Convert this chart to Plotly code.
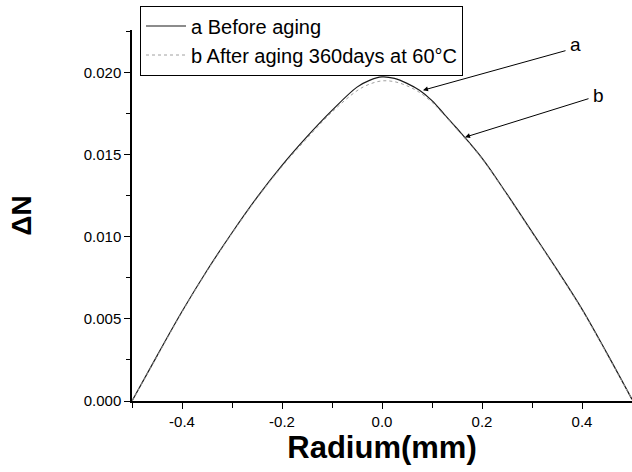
import plotly.graph_objects as go

# ---- data ----
radius = [-0.5, -0.45, -0.4, -0.35, -0.3, -0.25, -0.2, -0.15, -0.1, -0.05, -0.025,
          0.0, 0.025, 0.05, 0.075, 0.1, 0.125, 0.15, 0.2, 0.25, 0.3, 0.35, 0.4, 0.45, 0.5]
dn_before = [0.0, 0.00275, 0.00545, 0.00795, 0.01025, 0.0124, 0.01435, 0.0161, 0.0177, 0.01912, 0.01953,
             0.01974, 0.01965, 0.01935, 0.01893, 0.0183, 0.01745, 0.0166, 0.0148, 0.0126, 0.0103, 0.0080, 0.0056, 0.0029, 0.0001]
dn_after = [0.0, 0.0027, 0.0054, 0.0079, 0.0102, 0.01235, 0.01428, 0.016, 0.0176, 0.0189, 0.0193,
            0.0195, 0.01945, 0.0192, 0.0188, 0.0182, 0.0174, 0.01655, 0.01475, 0.01255, 0.01025, 0.00795, 0.00555, 0.00285, 0.0001]

label_a = "a Before aging"
label_b = "b After aging 360days at 60°C"
x_ticks = [-0.4, -0.2, 0.0, 0.2, 0.4]
x_tick_text = ["-0.4", "-0.2", "0.0", "0.2", "0.4"]
y_ticks = [0.0, 0.005, 0.010, 0.015, 0.020]
y_tick_text = ["0.000", "0.005", "0.010", "0.015", "0.020"]

FONT = "Liberation Sans, Arial, sans-serif"

fig = go.Figure()
fig.add_trace(go.Scatter(x=radius, y=dn_before, mode="lines", name=label_a,
                         line=dict(color="#1a1a1a", width=1.2, shape="spline", smoothing=1)))
fig.add_trace(go.Scatter(x=radius, y=dn_after, mode="lines", name=label_b,
                         line=dict(color="#a0a0a0", width=1, dash="dot", shape="spline", smoothing=1)))

axis_common = dict(showline=True, linecolor="black", linewidth=1.5, ticks="outside",
                   tickcolor="black", tickwidth=1.2, ticklen=6, showgrid=False, zeroline=False,
                   tickfont=dict(family=FONT, size=15, color="black"))

fig.update_xaxes(range=[-0.5, 0.5], tickvals=x_ticks, ticktext=x_tick_text,
                 minor=dict(ticks="outside", dtick=0.1, tick0=-0.5, ticklen=5, tickcolor="black", tickwidth=1.2),
                 title=dict(text="<b>Radium(mm)</b>", font=dict(family=FONT, size=31, color="black"), standoff=6),
                 **axis_common)
fig.update_yaxes(range=[0, 0.0226], tickvals=y_ticks, ticktext=y_tick_text,
                 minor=dict(ticks="outside", dtick=0.0025, tick0=0, ticklen=4, tickcolor="black", tickwidth=1.2),
                 title=dict(text="<b>ΔN</b>", font=dict(family=FONT, size=28, color="black"), standoff=44),
                 **axis_common)

# arrows
fig.add_annotation(x=0.082, y=0.01893, xref="x", yref="y", text="", showarrow=True,
                   axref="pixel", ayref="pixel", ax=144, ay=-40,
                   arrowhead=2, arrowsize=1, arrowwidth=1, arrowcolor="black")
fig.add_annotation(x=0.166, y=0.01607, xref="x", yref="y", text="", showarrow=True,
                   axref="pixel", ayref="pixel", ax=125, ay=-39,
                   arrowhead=2, arrowsize=1, arrowwidth=1, arrowcolor="black")
fig.add_annotation(x=0.386, y=0.0217, xref="x", yref="y", text="a", showarrow=False,
                   font=dict(family=FONT, size=19, color="black"))
fig.add_annotation(x=0.432, y=0.0186, xref="x", yref="y", text="b", showarrow=False,
                   font=dict(family=FONT, size=19, color="black"))

fig.update_layout(
    width=632, height=472,
    margin=dict(l=132, r=0, t=30, b=71),
    paper_bgcolor="white", plot_bgcolor="white",
    font=dict(family=FONT, color="black"),
    legend=dict(x=0.016, y=1.066, xanchor="left", yanchor="top",
                bgcolor="white", bordercolor="black", borderwidth=1,
                font=dict(family=FONT, size=20, color="black"),
                tracegroupgap=0, itemwidth=40),
    showlegend=True,
)

fig.write_html("out.html")
